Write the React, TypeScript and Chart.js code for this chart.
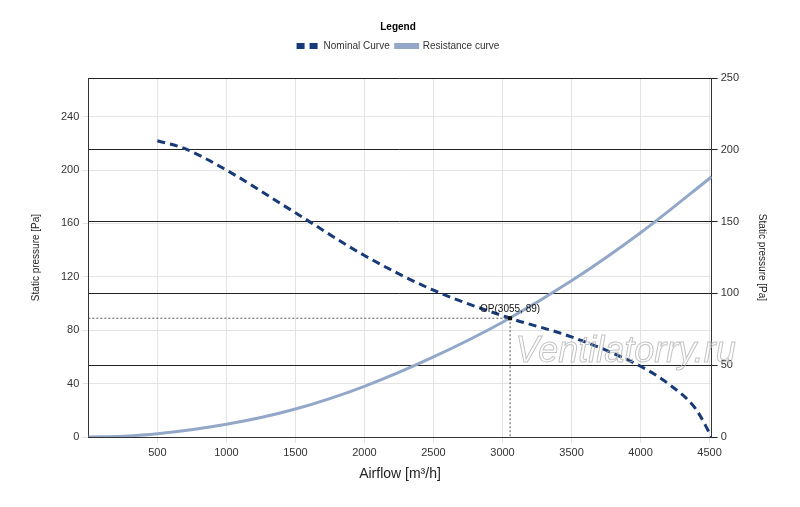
import React, { useEffect, useRef } from "react";
import { Chart, registerables } from "chart.js";
Chart.register(...registerables);

const nominalX = [500, 700, 1000, 1500, 2000, 2500, 3055, 3500, 4000, 4200, 4400, 4515];
const nominalY = [222, 216, 200, 168, 136, 110, 89, 75, 53, 40, 21, 0];
const resistX = [0, 250, 500, 1000, 1500, 2000, 2500, 3000, 3500, 4000, 4515];
const resistY = [0, 0.6, 2.4, 9.5, 21, 38, 60, 86, 117, 153, 195];
const opPoint = { x: 3055, y: 89, label: "OP(3055, 89)" };
const xTicks = [500, 1000, 1500, 2000, 2500, 3000, 3500, 4000, 4500];
const leftTicks = [0, 40, 80, 120, 160, 200, 240];
const FONT = "'Liberation Sans', Arial, sans-serif";

const legendGap = {
  id: "legendGap",
  beforeInit(chart: any) {
    const orig = chart.legend.fit;
    chart.legend.fit = function () {
      orig.call(this);
      this.height += 17;
    };
  },
};

const opPlugin = {
  id: "op",
  afterDatasetsDraw(chart: any) {
    const { ctx, scales, chartArea } = chart;
    const px = scales.x.getPixelForValue(opPoint.x);
    const py = scales.y.getPixelForValue(opPoint.y);
    ctx.save();
    ctx.font = `italic 36px ${FONT}`;
    ctx.strokeStyle = "rgba(185,185,185,0.85)";
    ctx.lineWidth = 1;
    ctx.textAlign = "right";
    ctx.textBaseline = "middle";
    ctx.strokeText("Ventilatorry.ru", chartArea.right + 24, scales.y.getPixelForValue(64));
    ctx.setLineDash([2, 2]);
    ctx.strokeStyle = "#555";
    ctx.beginPath();
    ctx.moveTo(chartArea.left, py);
    ctx.lineTo(px, py);
    ctx.moveTo(px, py);
    ctx.lineTo(px, chartArea.bottom);
    ctx.stroke();
    ctx.setLineDash([]);
    ctx.fillStyle = "#111";
    ctx.fillRect(px - 2, py - 2, 4, 4);
    ctx.font = `10px ${FONT}`;
    ctx.textAlign = "center";
    ctx.textBaseline = "bottom";
    ctx.fillText(opPoint.label, px, py - 4);
    ctx.restore();
  },
};

export default function App() {
  const ref = useRef<HTMLCanvasElement>(null);
  useEffect(() => {
    const chart = new Chart(ref.current!, {
      type: "line",
      data: {
        datasets: [
          {
            label: "Nominal Curve",
            data: nominalX.map((x, i) => ({ x, y: nominalY[i] })),
            borderColor: "#173a78",
            backgroundColor: "#173a78",
            borderWidth: 3,
            borderDash: [8, 5],
            pointRadius: 0,
            cubicInterpolationMode: "monotone",
            yAxisID: "y",
          },
          {
            label: "Resistance curve",
            data: resistX.map((x, i) => ({ x, y: resistY[i] })),
            borderColor: "#93a8c8",
            backgroundColor: "#93a8c8",
            borderWidth: 3,
            pointRadius: 0,
            cubicInterpolationMode: "monotone",
            yAxisID: "y",
          },
        ],
      },
      options: {
        animation: false,
        responsive: false,
        layout: { padding: { left: 14, right: 18, top: 21, bottom: 20 } },
        plugins: {
          tooltip: { enabled: false },
          legend: {
            position: "top",
            title: { display: true, text: "Legend", font: { family: FONT, size: 10, weight: "bold" }, color: "#000", padding: 1 },
            labels: {
              font: { family: FONT, size: 10 },
              color: "#333",
              boxWidth: 22,
              boxHeight: 3,
              padding: 6,
              generateLabels: (c: any) =>
                c.data.datasets.map((d: any, i: number) => ({
                  text: d.label,
                  fillStyle: "transparent",
                  strokeStyle: d.borderColor,
                  lineWidth: 3,
                  lineDash: d.borderDash || [],
                  datasetIndex: i,
                  fontColor: "#333",
                })),
            },
          },
        },
        scales: {
          x: {
            type: "linear",
            min: 0,
            max: 4515,
            afterBuildTicks: (s: any) => { s.ticks = xTicks.map((v) => ({ value: v })); },
            grid: { color: "#e3e3e3", tickLength: 6 },
            border: { color: "#333" },
            ticks: { font: { family: FONT, size: 11 }, color: "#333", maxRotation: 0, callback: (v: any) => String(v) },
            title: { display: true, text: "Airflow [m³/h]", font: { family: FONT, size: 14 }, color: "#222" },
          },
          y: {
            type: "linear",
            min: 0,
            max: 269,
            afterBuildTicks: (s: any) => { s.ticks = leftTicks.map((v) => ({ value: v })); },
            grid: { color: "#e3e3e3", tickLength: 6 },
            border: { color: "#333" },
            ticks: { font: { family: FONT, size: 11 }, color: "#333", callback: (v: any) => String(v) },
            title: { display: true, text: "Static pressure [Pa]", font: { family: FONT, size: 10 }, color: "#222", padding: 16 },
          },
          y1: {
            type: "linear",
            position: "right",
            min: 0,
            max: 250,
            ticks: { stepSize: 50, font: { family: FONT, size: 11 }, color: "#333", callback: (v: any) => String(v) },
            grid: { color: "#222", tickLength: 6, drawOnChartArea: true },
            border: { color: "#333" },
            title: { display: true, text: "Static pressure [Pa]", font: { family: FONT, size: 10 }, color: "#222", padding: 14 },
          },
        },
      },
      plugins: [legendGap, opPlugin],
    } as any);
    return () => chart.destroy();
  }, []);
  return (
    <div style={{ position: "absolute", left: 0, top: 0, width: 800, height: 507, background: "#fff" }}>
      <canvas ref={ref} width={800} height={507} />
    </div>
  );
}
